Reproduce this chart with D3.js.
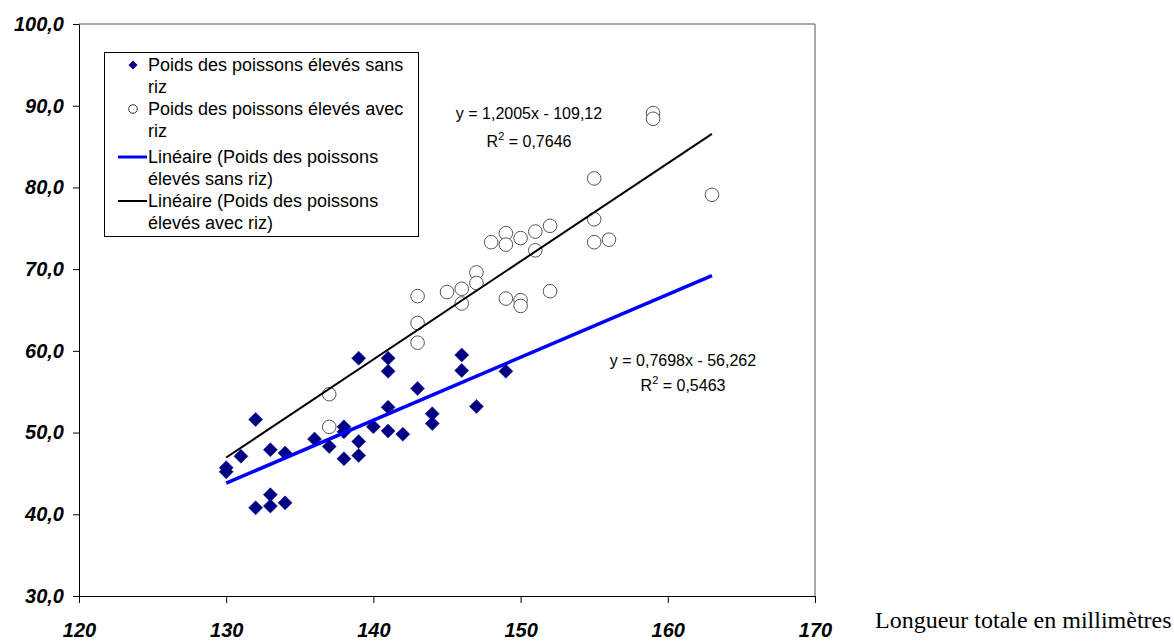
<!DOCTYPE html>
<html>
<head>
<meta charset="utf-8">
<script src="https://cdn.jsdelivr.net/npm/d3@7"></script>
<style>
  body { margin: 0; background: #fff; }
  svg { display: block; }
</style>
</head>
<body>
<div id="chart"></div>
<script>
// poissons élevés sans riz (longueur mm, poids g)
var sansRizX = [130, 130, 131, 132, 132, 133, 133, 133, 134, 134, 136, 137, 138, 138, 138, 139, 139, 139, 140, 141, 141, 141, 141, 142, 143, 144, 144, 146, 146, 147, 149];
var sansRizY = [45.7, 45.2, 47.1, 51.6, 40.8, 47.9, 42.4, 41.0, 47.5, 41.4, 49.2, 48.3, 50.7, 50.1, 46.8, 59.1, 48.9, 47.2, 50.7, 59.1, 57.5, 53.1, 50.2, 49.8, 55.4, 52.3, 51.1, 59.5, 57.6, 53.2, 57.5];

// poissons élevés avec riz
var avecRizX = [137, 137, 143, 143, 143, 145, 146, 146, 147, 147, 148, 149, 149, 149, 150, 150, 150, 151, 151, 152, 152, 155, 155, 155, 156, 159, 159, 163];
var avecRizY = [54.7, 50.7, 66.7, 63.4, 61.0, 67.2, 67.6, 65.8, 69.6, 68.3, 73.3, 74.4, 73.0, 66.4, 73.8, 66.2, 65.5, 74.6, 72.3, 75.3, 67.3, 81.1, 76.1, 73.3, 73.6, 89.1, 88.4, 79.1];

// droites de tendance : [pente, ordonnée], tracées sur trendRange
var trendSansRiz = [0.7698, -56.262];
var trendAvecRiz = [1.2005, -109.12];
var trendRange = [130, 163];

var xTicks = [120, 130, 140, 150, 160, 170];
var yTicks = [30, 40, 50, 60, 70, 80, 90, 100];

var legendLabels = [
  ["Poids des poissons élevés sans", "riz"],
  ["Poids des poissons élevés avec", "riz"],
  ["Linéaire (Poids des poissons", "élevés sans riz)"],
  ["Linéaire (Poids des poissons", "élevés avec riz)"]
];

var W = 1174, H = 641;
var margin = { top: 24, right: 359, bottom: 45, left: 79 };
var width = W - margin.left - margin.right;
var height = H - margin.top - margin.bottom;

var svg = d3.select("#chart").append("svg")
    .attr("width", W)
    .attr("height", H);

var g = svg.append("g")
    .attr("transform", "translate(" + margin.left + "," + margin.top + ")");

var x = d3.scaleLinear().domain([120, 170]).range([0, width]);
var y = d3.scaleLinear().domain([30, 100]).range([height, 0]);

var fmtY = function (d) { return d3.format(".1f")(d).replace(".", ","); };
var axisFont = "'Liberation Sans', Arial, sans-serif";
var tickFont = "'Liberation Sans Narrow', 'Arial Narrow', 'Liberation Sans', sans-serif";

// cadre (haut et droite)
g.append("path")
    .attr("d", "M0,0H" + width + "V" + height)
    .attr("fill", "none")
    .attr("stroke", "#555")
    .attr("stroke-width", 1);

var xAxis = g.append("g")
    .attr("transform", "translate(0," + height + ")")
    .call(d3.axisBottom(x).tickValues(xTicks).tickSize(7).tickSizeOuter(0).tickPadding(20));

var yAxis = g.append("g")
    .call(d3.axisLeft(y).tickValues(yTicks).tickFormat(fmtY).tickSize(6).tickSizeOuter(0).tickPadding(9));

[xAxis, yAxis].forEach(function (a) {
  a.select(".domain").attr("stroke", "#000");
  a.selectAll(".tick line").attr("stroke", "#000");
  a.selectAll("text")
      .attr("fill", "#000")
      .style("font-family", tickFont)
      .style("font-stretch", "condensed")
      .style("font-size", "20px")
      .style("font-weight", "bold")
      .style("font-style", "italic");
});

// points sans riz (losanges)
var diamond = function (r) {
  return "M0," + (-r) + "L" + r + ",0L0," + r + "L" + (-r) + ",0Z";
};

g.append("g").selectAll("path")
    .data(d3.range(sansRizX.length))
  .enter().append("path")
    .attr("d", diamond(7))
    .attr("transform", function (i) {
      return "translate(" + x(sansRizX[i]) + "," + y(sansRizY[i]) + ")";
    })
    .attr("fill", "#000080")
    .attr("stroke", "#1a1aa0")
    .attr("stroke-width", 0.6);

// points avec riz (cercles)
g.append("g").selectAll("circle")
    .data(d3.range(avecRizX.length))
  .enter().append("circle")
    .attr("cx", function (i) { return x(avecRizX[i]); })
    .attr("cy", function (i) { return y(avecRizY[i]); })
    .attr("r", 6.8)
    .attr("fill", "#fff")
    .attr("stroke", "#555")
    .attr("stroke-width", 1);

// droites de régression
var line = d3.line()
    .x(function (d) { return x(d[0]); })
    .y(function (d) { return y(d[1]); });

function trendPoints(t) {
  return trendRange.map(function (v) { return [v, t[0] * v + t[1]]; });
}

g.append("path")
    .attr("d", line(trendPoints(trendAvecRiz)))
    .attr("fill", "none")
    .attr("stroke", "#000")
    .attr("stroke-width", 2);

g.append("path")
    .attr("d", line(trendPoints(trendSansRiz)))
    .attr("fill", "none")
    .attr("stroke", "#0000ff")
    .attr("stroke-width", 3.5);

// équations
function fmtC(v, n) { return v.toFixed(n).replace(".", ","); }

function equation(t, r2, cx, cy, gap) {
  var e = g.append("g").style("font-family", axisFont).style("font-size", "16px").attr("fill", "#000");
  e.append("text")
      .attr("x", cx).attr("y", cy)
      .attr("text-anchor", "middle")
      .text("y = " + fmtC(t[0], 4) + "x - " + String(Math.abs(t[1])).replace(".", ","));
  var r = e.append("text")
      .attr("x", cx).attr("y", cy + gap)
      .attr("text-anchor", "middle");
  r.append("tspan").text("R");
  r.append("tspan").attr("dy", -7).style("font-size", "11px").text("2");
  r.append("tspan").attr("dy", 7).text(" = " + fmtC(r2, 4));
}

equation(trendAvecRiz, 0.7646, 529 - margin.left, 119 - margin.top, 28);
equation(trendSansRiz, 0.5463, 683 - margin.left, 366 - margin.top, 25);

// légende
var lg = svg.append("g").attr("transform", "translate(104,52)");
lg.append("rect")
    .attr("x", 0.5).attr("y", 0.5)
    .attr("width", 314).attr("height", 184)
    .attr("fill", "#fff")
    .attr("stroke", "#000");

var rowY = [13, 57, 105, 149];
legendLabels.forEach(function (lab, i) {
  var item = lg.append("g").attr("transform", "translate(0," + rowY[i] + ")");
  if (i === 0) {
    item.append("path").attr("d", diamond(4.5)).attr("transform", "translate(29,0)").attr("fill", "#000080");
  } else if (i === 1) {
    item.append("circle").attr("cx", 29).attr("r", 4.3).attr("fill", "#fff").attr("stroke", "#333");
  } else {
    item.append("line").attr("x1", 14).attr("x2", 43)
        .attr("stroke", i === 2 ? "#0000ff" : "#000")
        .attr("stroke-width", i === 2 ? 3 : 2);
  }
  lab.forEach(function (t, k) {
    item.append("text")
        .attr("x", 44)
        .attr("y", k * 22 + 6)
        .style("font-family", axisFont)
        .style("font-size", "18px")
        .attr("fill", "#000")
        .text(t);
  });
});

// titre de l'axe des abscisses
svg.append("text")
    .attr("x", 875)
    .attr("y", 628)
    .style("font-family", "'Liberation Serif', 'Times New Roman', serif")
    .style("font-size", "24px")
    .attr("fill", "#000")
    .text("Longueur totale en millimètres");
</script>
</body>
</html>
